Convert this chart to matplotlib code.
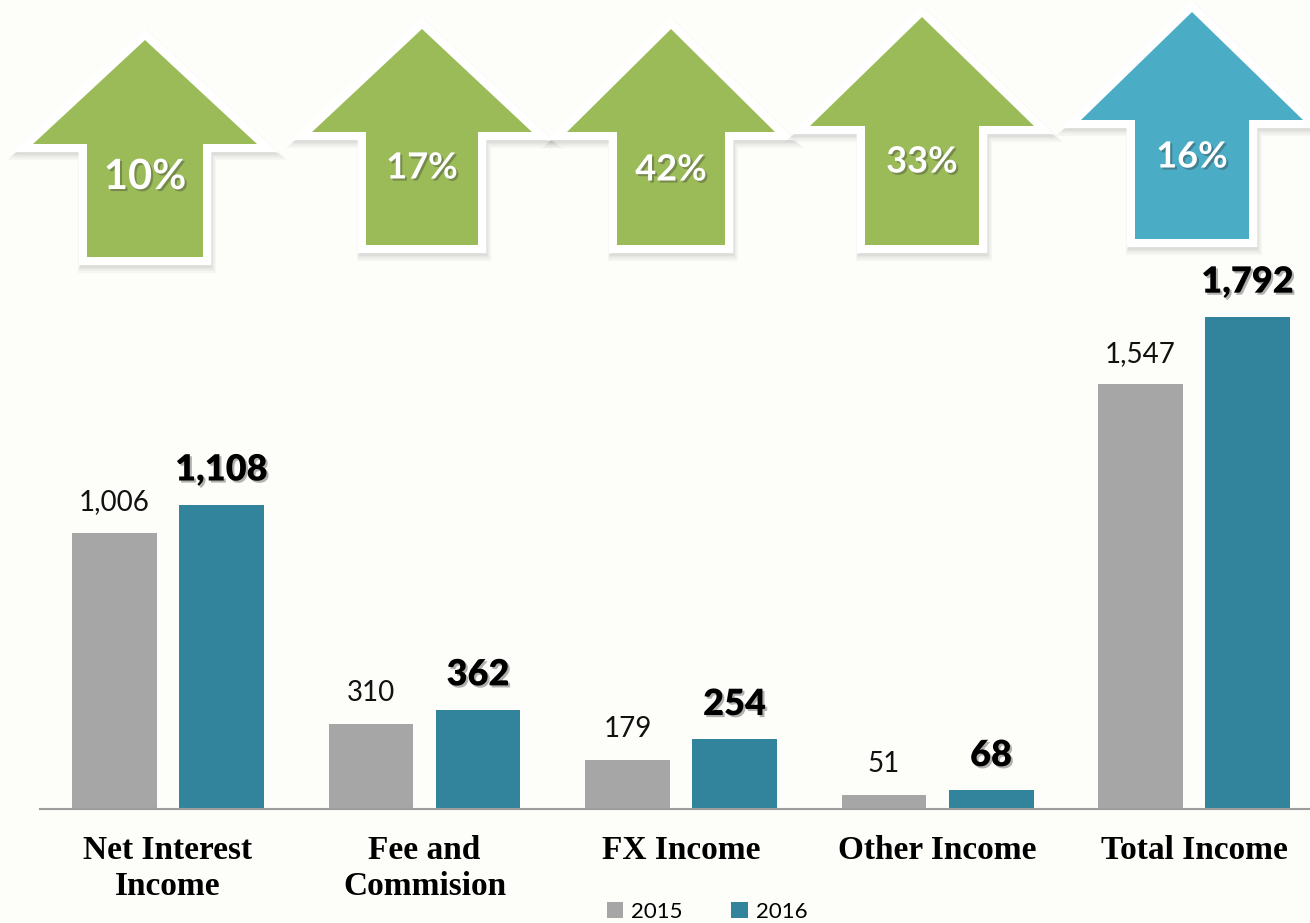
import matplotlib.pyplot as plt
import matplotlib.patheffects as pe
from matplotlib.patches import Polygon
import numpy as np

categories = ["Net Interest\nIncome", "Fee and\nCommision", "FX Income", "Other Income", "Total Income"]
values_2015 = [1006, 310, 179, 51, 1547]
values_2016 = [1108, 362, 254, 68, 1792]
growth = ["10%", "17%", "42%", "33%", "16%"]

BG = "#FDFDF9"
GREY = "#A6A6A6"
TEAL = "#31849B"
GREEN = "#9BBB59"
BLUE = "#4BACC6"

# arrow layout in pixels: (center x, tip y, head base y, head half width, shaft half width, bottom y, text y, font size, colour)
arrows = [
    (145, 40, 144, 112, 58, 257, 177, 30, GREEN),
    (422, 29, 132, 110, 56, 245, 168, 26, GREEN),
    (671, 29, 132, 104, 54, 245, 170, 26, GREEN),
    (922, 17, 126, 112, 57, 245, 162, 26, GREEN),
    (1192, 12, 120, 111, 57, 239, 157, 26, BLUE),
]


def arrow_points(cx, top, hb, hw, sw, bottom):
    return np.array([
        (cx, top), (cx + hw, hb), (cx + sw, hb), (cx + sw, bottom),
        (cx - sw, bottom), (cx - sw, hb), (cx - hw, hb),
    ])


def main():
    fig = plt.figure(figsize=(13.1, 9.23), dpi=100, facecolor=BG)
    ax = fig.add_axes([40 / 1310, 114 / 923, 1270 / 1310, 809 / 923])
    ax.set_facecolor(BG)
    ax.patch.set_alpha(0)

    x = np.arange(len(categories))
    w = 0.331
    off = 0.2086
    b15 = ax.bar(x - off, values_2015, w, color=GREY, label="2015", zorder=2)
    b16 = ax.bar(x + off, values_2016, w, color=TEAL, label="2016", zorder=2)

    ax.set_xlim(-0.499, 4.452)
    ax.set_ylim(0, 2946)
    for s in ["left", "right", "top"]:
        ax.spines[s].set_visible(False)
    ax.spines["bottom"].set_color("#9C9C9C")
    ax.spines["bottom"].set_linewidth(1.5)
    ax.set_yticks([])
    ax.set_xticks(x)
    ax.set_xticklabels(categories, fontsize=24, fontweight="bold",
                       family="Liberation Serif", linespacing=1.2)
    ax.tick_params(axis="x", length=0, pad=19)

    shadow = [pe.withSimplePatchShadow(offset=(1.5, -1.5), shadow_rgbFace="#555555", alpha=0.45)]
    for xi, v in zip(x - off, values_2015):
        ax.annotate(f"{v:,}", (xi, v), xytext=(0, 22), textcoords="offset points",
                    ha="center", va="center", fontsize=20, family="Lato", color="#111111")
    for xi, v in zip(x + off, values_2016):
        ax.annotate(f"{v:,}", (xi, v), xytext=(0, 25), textcoords="offset points",
                    ha="center", va="center", fontsize=26, family="Lato",
                    fontweight="heavy", color="black", path_effects=shadow)

    fig.legend(handles=[b15, b16], loc="center", bbox_to_anchor=(707 / 1310, 1 - 912 / 923),
               ncol=2, frameon=False, prop={"family": "Lato", "size": 16},
               handlelength=0.75, handleheight=0.75, handletextpad=0.35, columnspacing=2.2)

    # arrows on top, drawn in pixel coordinates
    ov = fig.add_axes([0, 0, 1, 1])
    ov.set_xlim(0, 1310)
    ov.set_ylim(923, 0)
    ov.axis("off")
    ov.patch.set_alpha(0)
    txt_shadow = [pe.withSimplePatchShadow(offset=(1.5, -1.5), shadow_rgbFace="#333333", alpha=0.35)]
    for (cx, top, hb, hw, sw, bottom, ty, fs, col), g in zip(arrows, growth):
        pts = arrow_points(cx, top, hb, hw, sw, bottom)
        # soft drop shadow
        for k, lw, a in [(5, 16, 0.03), (4, 14, 0.04), (3, 12, 0.06), (2, 10, 0.06)]:
            ov.add_patch(Polygon(pts + [k * 0.4, k], closed=True, facecolor="#000000",
                                 edgecolor="#000000", alpha=a, lw=lw, joinstyle="miter"))
        ov.add_patch(Polygon(pts, closed=True, facecolor="white", edgecolor="white",
                             lw=12, joinstyle="miter"))
        ov.add_patch(Polygon(pts, closed=True, facecolor=col, edgecolor="none"))
        ov.text(cx, ty, g, ha="center", va="center", fontsize=fs, family="Lato",
                fontweight="bold", color="white", path_effects=txt_shadow)

    fig.savefig("out.png", dpi=100, facecolor=BG)
    plt.close()


if __name__ == "__main__":
    main()
